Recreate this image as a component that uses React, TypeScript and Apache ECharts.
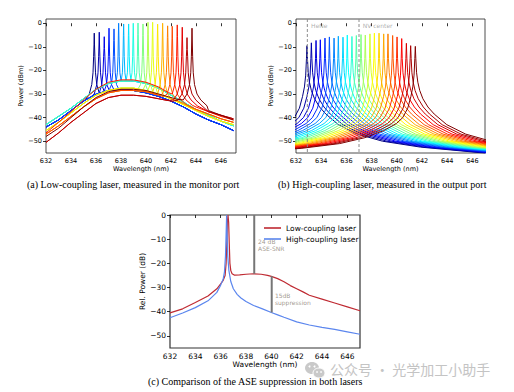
import React, { useEffect, useRef } from "react";
import * as echarts from "echarts";

// ---------- Panel (a): low-coupling laser, monitor port ----------
const WL_GRID_A = [632, 633, 634, 635, 636, 637, 638, 639, 640, 641, 642, 643, 644, 645, 646, 647];
const ASE_A_BLUE = [-44, -41, -37, -33, -30, -28.5, -28, -28.5, -29.5, -31, -33, -35.5, -38.5, -41, -43, -45.5];
const ASE_A_CYAN = [-43, -39.5, -36, -32, -28, -25.5, -24.5, -24.5, -25.5, -27.5, -30.5, -33.5, -36.5, -39, -41.5, -43.5];
const ASE_A_GREEN = [-45.5, -42, -38, -34, -30.5, -28.5, -27.5, -27.5, -28.5, -30, -32, -34.5, -37, -39.5, -41.5, -43];
const ASE_A_YELLOW = [-47, -43.5, -39.5, -35.5, -32, -29.5, -28.5, -28.5, -29, -30.5, -32, -34, -36.5, -38.5, -40.5, -42];
const ASE_A_ORANGE_RED = [-46.5, -42, -37.5, -32.5, -28, -25, -24, -24, -25, -27, -30, -33, -35.5, -37.5, -39.5, -41];
const ASE_A_RED = [-50.5, -46.5, -42, -38, -34, -31.5, -30.5, -30.5, -31, -32, -33, -34.5, -36, -37.5, -39, -40.5];
const ASE_A_DARK_RED = [-48, -44.5, -40, -35.5, -31.5, -29, -28, -28, -28.5, -30, -31.5, -33, -35, -37, -39, -41];
const ASE_A_PROFILES = [ASE_A_BLUE, ASE_A_CYAN, ASE_A_GREEN, ASE_A_YELLOW, ASE_A_ORANGE_RED, ASE_A_RED, ASE_A_DARK_RED];

const PEAK_WL_A = [635.86, 636.26, 636.66, 637.04, 637.44, 637.81, 638.21, 638.61, 638.98, 639.36, 639.76, 640.16, 640.53, 640.93, 641.33, 641.73, 642.1, 642.5, 642.9, 643.28, 643.68];
const PEAK_DBM_A = [-4.2, -3.8, -5.7, -2.1, -2.4, 0, -0.3, -0.3, 0, 0.1, -0.3, 0.4, 0.4, -0.4, 0, -1.1, -1.3, -0.7, -1.7, -6.1, -2.1];
const PROFILE_OF_A = [0, 0, 0, 0, 0, 1, 1, 1, 1, 1, 2, 2, 2, 2, 3, 3, 3, 4, 5, 5, 6];
const SPIKE_OFFSET_A = [0.02, 0.05, 0.1, 0.2, 0.4, 0.7, 1.2];
const SPIKE_LEVEL_A = [NaN, -14, -21, -26, -30, -32.5, -35];
const SPIKE_TOP_DROP_A = 5;

// ---------- Panel (b): high-coupling laser, output port ----------
const PEAK_WL_B = [632.87, 633.22, 633.59, 633.93, 634.3, 634.65, 635.02, 635.36, 635.73, 636.07, 636.44, 636.79, 637.16, 637.5, 637.87, 638.22, 638.59, 638.96, 639.3, 639.67, 640.02, 640.39, 640.76, 641.1, 641.47];
const PEAK_DBM_B = [-9.5, -8.3, -7.3, -7, -6.3, -5.8, -6.3, -5.5, -5.9, -5, -5.6, -5.2, -4.8, -5, -4.5, -4.2, -4.2, -4.5, -4.5, -5.2, -5.8, -6.5, -8.5, -9.5, -9.8];
const WING_OFFSET_B = [0.04, 0.1, 0.2, 0.35, 0.6, 1, 1.5, 2.5, 4, 6, 9, 15];
const WING_LEFT_B = [-15, -22, -27, -31, -36, -40, -42.5, -45.5, -48.5, -51, -53, -55.5];
const WING_RIGHT_B = [-15, -21, -25, -28.5, -32, -35.5, -38.5, -43, -47, -50, -52.5, -55.5];
const HENE_WL = 632.9;
const NV_WL = 637.0;

// ---------- Panel (c): comparison ----------
const LOW_X = [632, 633, 634, 635, 635.7, 636, 636.2, 636.35, 636.43, 636.48, 636.53, 636.58, 636.63, 636.68, 636.73, 636.8, 636.9, 637.1, 637.5, 638, 638.6, 639.2, 639.7, 640, 640.5, 641, 641.5, 642, 642.5, 643, 644, 645, 646, 647];
const LOW_Y = [-40.5, -38.8, -36.2, -33.5, -30.5, -28.5, -27, -25, -20, -12, -3, 0, -3, -12, -20, -23, -24.3, -24.9, -24.8, -24.5, -24.3, -24.5, -25, -25.4, -26.3, -27.6, -29.2, -30.5, -31.8, -33.2, -34.8, -36.4, -38, -39.6];
const HIGH_X = [632, 633, 634, 635, 635.7, 636, 636.2, 636.3, 636.38, 636.43, 636.47, 636.51, 636.56, 636.65, 636.8, 637, 637.3, 637.6, 638, 638.6, 639.3, 640, 640.5, 641, 642, 643, 644, 645, 646, 647];
const HIGH_Y = [-42.5, -40.5, -38.3, -35.5, -32, -29, -26.5, -23.5, -17, -8, 0, -8, -17, -23, -27.5, -30.5, -32.8, -34.3, -35.8, -37.4, -38.8, -40.3, -41.3, -42.3, -44.2, -45.5, -46.5, -47.3, -48.3, -49.3];
const SNR_X = 638.65;
const SNR_TOP = 0;
const SNR_BOTTOM = -24.3;
const SUPP_X = 640.03;
const SUPP_TOP = -25.3;
const SUPP_BOTTOM = -40.3;

const X_TICKS = [632, 634, 636, 638, 640, 642, 644, 646];
const Y_TICKS = [-50, -40, -30, -20, -10, 0];

function jet(t: number): string {
  const c = (v: number) => Math.round(255 * Math.max(0, Math.min(1, v)));
  return `rgb(${c(1.5 - Math.abs(4 * t - 3))},${c(1.5 - Math.abs(4 * t - 2))},${c(1.5 - Math.abs(4 * t - 1))})`;
}

function baseAt(profile: number[], x: number): number {
  const g = WL_GRID_A;
  if (x <= g[0]) return profile[0];
  for (let k = 1; k < g.length; k++) {
    if (x <= g[k]) {
      const f = (x - g[k - 1]) / (g[k] - g[k - 1]);
      return profile[k - 1] + f * (profile[k] - profile[k - 1]);
    }
  }
  return profile[profile.length - 1];
}

const minusFmt = (v: number) => (v < 0 ? "\u2212" + Math.abs(v) : String(v));

function buildOption() {
  const FONT = "DejaVu Sans";
  const series: any[] = [];

  // panel (a)
  PEAK_WL_A.forEach((p, i) => {
    const prof = ASE_A_PROFILES[PROFILE_OF_A[i]];
    const reach = SPIKE_OFFSET_A[SPIKE_OFFSET_A.length - 1];
    const pts: number[][] = [];
    WL_GRID_A.forEach((x, k) => {
      if (Math.abs(x - p) > reach) pts.push([x, prof[k]]);
    });
    SPIKE_OFFSET_A.forEach((d, k) => {
      const lvl = k === 0 ? PEAK_DBM_A[i] - SPIKE_TOP_DROP_A : SPIKE_LEVEL_A[k];
      pts.push([p - d, Math.max(baseAt(prof, p - d), lvl)]);
      pts.push([p + d, Math.max(baseAt(prof, p + d), lvl)]);
    });
    pts.push([p, PEAK_DBM_A[i]]);
    pts.sort((a, b) => a[0] - b[0]);
    series.push({
      type: "line",
      xAxisIndex: 0,
      yAxisIndex: 0,
      data: pts,
      symbol: "none",
      silent: true,
      lineStyle: { color: jet(i / (PEAK_WL_A.length - 1)), width: 1 },
    });
  });

  // panel (b)
  PEAK_WL_B.forEach((p, i) => {
    const pts: number[][] = [];
    for (let k = WING_OFFSET_B.length - 1; k >= 0; k--) pts.push([p - WING_OFFSET_B[k], WING_LEFT_B[k]]);
    pts.push([p, PEAK_DBM_B[i]]);
    for (let k = 0; k < WING_OFFSET_B.length; k++) pts.push([p + WING_OFFSET_B[k], WING_RIGHT_B[k]]);
    series.push({
      type: "line",
      xAxisIndex: 1,
      yAxisIndex: 1,
      data: pts,
      symbol: "none",
      silent: true,
      lineStyle: { color: jet(i / (PEAK_WL_B.length - 1)), width: 1 },
    });
  });
  [HENE_WL, NV_WL].forEach((w) => {
    series.push({
      type: "line",
      xAxisIndex: 1,
      yAxisIndex: 1,
      data: [[w, 1.8], [w, -55]],
      symbol: "none",
      silent: true,
      z: 5,
      lineStyle: { color: "#8c8c8c", width: 1, type: [3, 2] },
    });
  });
  series.push({
    type: "scatter",
    xAxisIndex: 1,
    yAxisIndex: 1,
    symbolSize: 0,
    silent: true,
    z: 6,
    data: [
      { value: [HENE_WL + 0.3, -1.1], name: "HeNe" },
      { value: [NV_WL + 0.3, -1.1], name: "NV center" },
    ],
    label: {
      show: true,
      position: "inside",
      align: "left",
      verticalAlign: "middle",
      formatter: (p: any) => p.name,
      fontSize: 6,
      fontFamily: FONT,
      color: "#9a9a9a",
    },
  });

  // panel (c)
  series.push({
    type: "line",
    name: "Low-coupling laser",
    xAxisIndex: 2,
    yAxisIndex: 2,
    data: LOW_X.map((x, k) => [x, LOW_Y[k]]),
    symbol: "none",
    silent: true,
    color: "#bf2a32",
    lineStyle: { color: "#bf2a32", width: 1.2 },
  });
  series.push({
    type: "line",
    name: "High-coupling laser",
    xAxisIndex: 2,
    yAxisIndex: 2,
    data: HIGH_X.map((x, k) => [x, HIGH_Y[k]]),
    symbol: "none",
    silent: true,
    color: "#5b86ee",
    lineStyle: { color: "#5b86ee", width: 1.2 },
  });
  [
    [SNR_X, SNR_TOP, SNR_BOTTOM],
    [SUPP_X, SUPP_TOP, SUPP_BOTTOM],
  ].forEach(([x, t, b]) => {
    series.push({
      type: "line",
      xAxisIndex: 2,
      yAxisIndex: 2,
      data: [[x, t], [x, b]],
      symbol: "none",
      silent: true,
      z: 5,
      lineStyle: { color: "#767676", width: 2 },
    });
  });
  series.push({
    type: "scatter",
    xAxisIndex: 2,
    yAxisIndex: 2,
    symbolSize: 0,
    silent: true,
    z: 6,
    data: [
      { value: [SNR_X + 0.3, -12.4], name: "24 dB\nASE-SNR" },
      { value: [SUPP_X + 0.25, -34.7], name: "15dB\nsuppression" },
    ],
    label: {
      show: true,
      position: "inside",
      align: "left",
      verticalAlign: "middle",
      formatter: (p: any) => p.name,
      fontSize: 6,
      lineHeight: 7,
      fontFamily: FONT,
      color: "#8a7e72",
    },
  });

  const mkX = (gi: number, min: number, max: number, fs: number, nameGap: number) => ({
    type: "value",
    gridIndex: gi,
    min,
    max,
    name: "Wavelength (nm)",
    nameLocation: "middle",
    nameGap,
    nameTextStyle: { fontSize: fs, fontFamily: FONT, color: "#000" },
    axisLine: { show: false },
    axisTick: { show: true, length: 3, customValues: X_TICKS, lineStyle: { color: "#000", width: 0.8 } },
    axisLabel: { show: true, customValues: X_TICKS, fontSize: fs, fontFamily: FONT, color: "#000", margin: 4 },
    splitLine: { show: false },
  });
  const mkY = (gi: number, min: number, max: number, fs: number, name: string, nameGap: number) => ({
    type: "value",
    gridIndex: gi,
    min,
    max,
    name,
    nameLocation: "middle",
    nameGap,
    nameTextStyle: { fontSize: fs, fontFamily: FONT, color: "#000" },
    axisLine: { show: false },
    axisTick: { show: true, length: 3, customValues: Y_TICKS, lineStyle: { color: "#000", width: 0.8 } },
    axisLabel: { show: true, customValues: Y_TICKS, fontSize: fs, fontFamily: FONT, color: "#000", margin: 4, formatter: minusFmt },
    splitLine: { show: false },
  });

  return {
    animation: false,
    backgroundColor: "#fff",
    grid: [
      { left: 46, top: 19, width: 190, height: 134, show: true, borderColor: "#222", borderWidth: 0.8, backgroundColor: "transparent" },
      { left: 296, top: 19, width: 189, height: 134, show: true, borderColor: "#222", borderWidth: 0.8, backgroundColor: "transparent" },
      { left: 170, top: 215, width: 190, height: 133, show: true, borderColor: "#333", borderWidth: 1.2, backgroundColor: "transparent" },
    ],
    xAxis: [mkX(0, 632, 647.2, 6.5, 12), mkX(1, 632, 647, 6.5, 12), mkX(2, 632, 647, 7.5, 12)],
    yAxis: [
      mkY(0, -55, 1.8, 6.5, "Power (dBm)", 20),
      mkY(1, -55, 1.8, 6.5, "Power (dBm)", 20),
      mkY(2, -55, 0, 7.5, "Rel. Power (dB)", 20),
    ],
    legend: {
      data: ["Low-coupling laser", "High-coupling laser"],
      left: 259,
      top: 219,
      orient: "vertical",
      icon: "rect",
      itemWidth: 17,
      itemHeight: 1.6,
      itemGap: 3,
      textStyle: { fontSize: 7.5, fontFamily: FONT, color: "#000" },
    },
    graphic: [
      {
        type: "text",
        left: 27,
        top: 179,
        style: { text: "(a) Low-coupling laser, measured in the monitor port", font: "10px 'Liberation Serif'", fill: "#000" },
      },
      {
        type: "text",
        left: 278,
        top: 179,
        style: { text: "(b) High-coupling laser, measured in the output port", font: "10px 'Liberation Serif'", fill: "#000" },
      },
      {
        type: "text",
        left: 148,
        top: 376,
        style: { text: "(c) Comparison of the ASE suppression in both lasers", font: "10px 'Liberation Serif'", fill: "#000" },
      },
      {
        type: "group",
        left: 305,
        top: 362,
        children: [
          { type: "ellipse", shape: { cx: 7, cy: 6, rx: 7, ry: 6 }, style: { fill: "#c9c9c9" } },
          { type: "ellipse", shape: { cx: 14, cy: 11, rx: 6, ry: 5 }, style: { fill: "#c9c9c9", stroke: "#fff", lineWidth: 1 } },
          { type: "circle", shape: { cx: 4.5, cy: 4.5, r: 1 }, style: { fill: "#fff" } },
          { type: "circle", shape: { cx: 9.5, cy: 4.5, r: 1 }, style: { fill: "#fff" } },
          { type: "circle", shape: { cx: 12, cy: 10, r: 0.8 }, style: { fill: "#fff" } },
          { type: "circle", shape: { cx: 16, cy: 10, r: 0.8 }, style: { fill: "#fff" } },
        ],
      },
      {
        type: "text",
        left: 330,
        top: 362,
        style: { text: "公众号 · 光学加工小助手", font: "14px 'Noto Sans CJK SC'", fill: "#c4c4c4" },
      },
    ],
    series,
  };
}

export default function App() {
  const ref = useRef<HTMLDivElement>(null);
  useEffect(() => {
    if (!ref.current) return;
    const chart = echarts.init(ref.current, undefined, { renderer: "svg" });
    chart.setOption(buildOption() as any);
    return () => chart.dispose();
  }, []);
  return <div ref={ref} style={{ position: "fixed", left: 0, top: 0, width: 514, height: 392 }} />;
}
